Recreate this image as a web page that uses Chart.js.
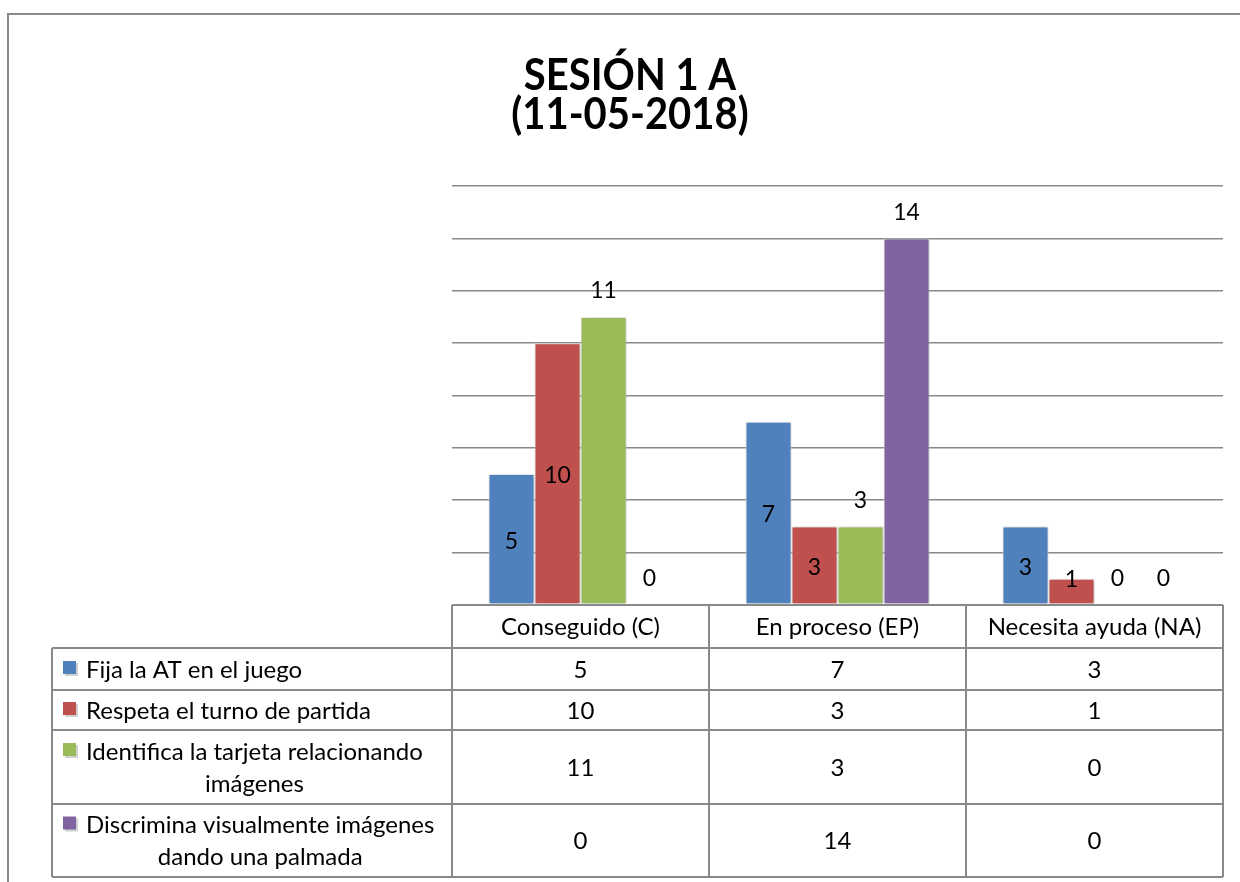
<!DOCTYPE html>
<html>
<head>
<meta charset="utf-8">
<script src="https://cdn.jsdelivr.net/npm/chart.js@4/dist/chart.umd.min.js"></script>
<style>
  html, body { margin: 0; padding: 0; background: #fff; }
  #wrap { width: 1240px; height: 882px; position: relative; }
</style>
</head>
<body>
<div id="wrap"><canvas id="c"></canvas></div>
<script>
// Session data: one value per category for each observed skill
const titleLines = ['SESIÓN 1 A', '(11-05-2018)'];
const categories = ['Conseguido (C)', 'En proceso (EP)', 'Necesita ayuda (NA)'];
const fijaValues = [5, 7, 3];
const respetaValues = [10, 3, 1];
const identificaValues = [11, 3, 0];
const discriminaValues = [0, 14, 0];
const seriesLabels = [
  ['Fija la AT en el juego'],
  ['Respeta el turno de partida'],
  ['Identifica la tarjeta relacionando', 'imágenes'],
  ['Discrimina visualmente imágenes', 'dando una palmada']
];
const seriesColors = ['#4F81BD', '#C0504D', '#9BBB59', '#8064A2'];
const yTicks = [0, 2, 4, 6, 8, 10, 12, 14, 16];

const FONT = 'Lato, "Open Sans", sans-serif';
const LINE = '#898989';

const seriesValues = [fijaValues, respetaValues, identificaValues, discriminaValues];

// label placement: first two series centred in the bar, the others above it
const labelInside = [true, true, false, false];

const framePlugin = {
  id: 'frame',
  beforeDraw(chart) {
    const ctx = chart.ctx;
    ctx.save();
    ctx.strokeStyle = LINE;
    ctx.lineWidth = 2;
    ctx.beginPath();
    ctx.moveTo(8, 882);
    ctx.lineTo(8, 14);
    ctx.lineTo(1240, 14);
    ctx.stroke();
    // title, drawn slightly tall
    ctx.fillStyle = '#000';
    ctx.font = 'bold 40px ' + FONT;
    ctx.textAlign = 'center';
    ctx.textBaseline = 'alphabetic';
    ctx.save();
    ctx.translate(630, 90);
    ctx.scale(1, 1.1);
    ctx.fillText(titleLines[0], 0, 0);
    ctx.restore();
    ctx.save();
    ctx.translate(630, 129);
    ctx.scale(1, 1.1);
    ctx.fillText(titleLines[1], 0, 0);
    ctx.restore();
    ctx.restore();
  },
  beforeDatasetsDraw(chart) {
    const ctx = chart.ctx;
    ctx.save();
    ctx.shadowColor = 'rgba(0,0,0,0.28)';
    ctx.shadowBlur = 4;
    ctx.shadowOffsetX = 1;
    ctx.shadowOffsetY = 0;
  },
  afterDatasetsDraw(chart) {
    const ctx = chart.ctx;
    ctx.restore();
    // value labels
    ctx.save();
    ctx.fillStyle = '#000';
    ctx.font = '23px ' + FONT;
    ctx.textAlign = 'center';
    ctx.textBaseline = 'middle';
    chart.data.datasets.forEach((ds, di) => {
      const meta = chart.getDatasetMeta(di);
      meta.data.forEach((bar, i) => {
        const base = bar.base;
        let y;
        if (labelInside[di]) {
          y = Math.min((bar.y + base) / 2 + 2, base - 25);
        } else {
          y = bar.y - 26;
        }
        ctx.fillText(String(ds.data[i]), bar.x, y);
      });
    });
    ctx.restore();
  },
  afterDraw(chart) {
    const ctx = chart.ctx;
    const area = chart.chartArea;
    const xs = chart.scales.x;
    const left = area.left, right = area.right, top = area.bottom;
    const tableLeft = 52;
    const rowHeights = [43, 42, 40, 74, 73];
    const rows = [top];
    rowHeights.forEach(h => rows.push(rows[rows.length - 1] + h));
    const bottom = rows[rows.length - 1];
    const step = (right - left) / categories.length;
    const colEdges = categories.map((_, i) => left + i * step).concat([right]);

    ctx.save();
    ctx.strokeStyle = LINE;
    ctx.lineWidth = 2;
    ctx.beginPath();
    // header top (axis line)
    ctx.moveTo(left, rows[0]); ctx.lineTo(right, rows[0]);
    for (let r = 1; r < rows.length; r++) {
      ctx.moveTo(tableLeft, rows[r]); ctx.lineTo(right, rows[r]);
    }
    colEdges.forEach(x => { ctx.moveTo(x, rows[0]); ctx.lineTo(x, bottom); });
    ctx.moveTo(tableLeft, rows[1]); ctx.lineTo(tableLeft, bottom);
    ctx.stroke();

    ctx.fillStyle = '#000';
    ctx.font = '24px ' + FONT;
    ctx.textBaseline = 'middle';
    ctx.textAlign = 'center';
    categories.forEach((c, i) => {
      ctx.fillText(c, xs.getPixelForValue(i), (rows[0] + rows[1]) / 2 + 1);
    });

    seriesLabels.forEach((lines, si) => {
      const rTop = rows[si + 1], rBot = rows[si + 2];
      const mid = (rTop + rBot) / 2;
      const lh = 32;
      const y0 = mid - (lines.length - 1) * lh / 2;
      // legend key
      ctx.save();
      ctx.fillStyle = 'rgba(0,0,0,0.18)';
      ctx.fillRect(65, y0 - 6, 13, 13);
      ctx.fillStyle = seriesColors[si];
      ctx.fillRect(63, y0 - 8, 13, 13);
      ctx.restore();
      const textX = 86;
      const w0 = ctx.measureText(lines[0]).width;
      ctx.textAlign = 'left';
      ctx.fillText(lines[0], textX, y0 + 1);
      ctx.textAlign = 'center';
      for (let k = 1; k < lines.length; k++) {
        ctx.fillText(lines[k], textX + w0 / 2, y0 + k * lh + 1);
      }
      seriesValues[si].forEach((v, ci) => {
        ctx.fillText(String(v), xs.getPixelForValue(ci), mid + 1);
      });
    });
    ctx.restore();
  }
};

new Chart(document.getElementById('c'), {
  type: 'bar',
  data: {
    labels: categories,
    datasets: seriesValues.map((vals, i) => ({
      label: seriesLabels[i].join(' '),
      data: vals,
      backgroundColor: seriesColors[i],
      borderColor: '#ffffff',
      borderWidth: 1,
      borderSkipped: false,
      barPercentage: 1,
      categoryPercentage: 0.716
    }))
  },
  options: {
    responsive: true,
    maintainAspectRatio: false,
    animation: false,
    layout: { padding: { left: 452, right: 17, top: 186, bottom: 277 } },
    plugins: {
      legend: { display: false },
      title: { display: false },
      tooltip: { enabled: false }
    },
    scales: {
      x: {
        display: false
      },
      y: {
        min: yTicks[0],
        max: yTicks[yTicks.length - 1],
        afterBuildTicks(scale) { scale.ticks = yTicks.map(v => ({ value: v })); },
        ticks: { display: false },
        border: { display: false },
        grid: { color: LINE, lineWidth: 1.6, drawTicks: false }
      }
    }
  },
  plugins: [framePlugin]
});
</script>
</body>
</html>
